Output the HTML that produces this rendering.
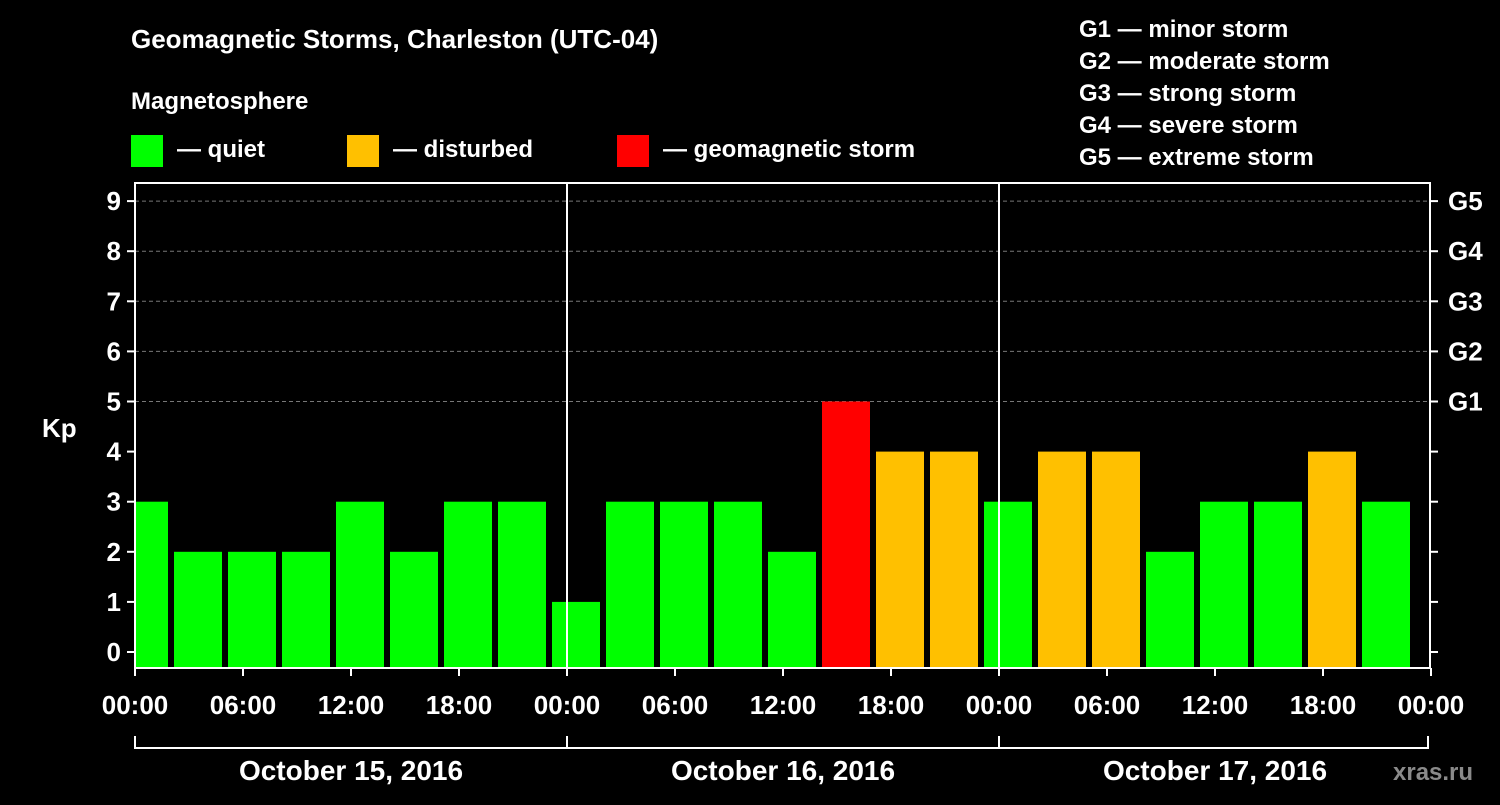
<!DOCTYPE html>
<html><head><meta charset="utf-8"><style>
body{margin:0;background:#000;}
svg text{font-family:"Liberation Sans",Arial,sans-serif;font-weight:bold;fill:#fff;}
</style></head><body>
<svg id="chart" width="1500" height="800" xmlns="http://www.w3.org/2000/svg">
<rect width="1500" height="800" fill="#000"/>
<text x="131" y="48" font-size="26">Geomagnetic Storms, Charleston (UTC-04)</text>
<text x="131" y="109" font-size="24">Magnetosphere</text>
<g>
<rect x="131" y="135" width="32" height="32" fill="#00ff00"/>
<text x="177" y="157" font-size="24">— quiet</text>
<rect x="347" y="135" width="32" height="32" fill="#ffc000"/>
<text x="393" y="157" font-size="24">— disturbed</text>
<rect x="617" y="135" width="32" height="32" fill="#ff0000"/>
<text x="663" y="157" font-size="24">— geomagnetic storm</text>
</g>
<g font-size="24">
<text x="1079" y="37">G1 — minor storm</text>
<text x="1079" y="69">G2 — moderate storm</text>
<text x="1079" y="101">G3 — strong storm</text>
<text x="1079" y="133">G4 — severe storm</text>
<text x="1079" y="165">G5 — extreme storm</text>
</g>
<text x="42" y="437" font-size="26">Kp</text>
<text x="1393" y="780" font-size="24" fill="#888" style="fill:#8a8a8a">xras.ru</text>
<g id="grid"></g>
<g id="bars"></g>
<g id="axes"></g>
</svg>
<script>
const kpValues=[3,2,2,2,3,2,3,3,1,3,3,3,2,5,4,4,3,4,4,2,3,3,4,3];
const yTicks=[0,1,2,3,4,5,6,7,8,9];
const gLabels=["G1","G2","G3","G4","G5"];
const timeLabels=["00:00","06:00","12:00","18:00","00:00","06:00","12:00","18:00","00:00","06:00","12:00","18:00","00:00"];
const dayLabels=["October 15, 2016","October 16, 2016","October 17, 2016"];
const firstBarOffsetHours=-1;

const NS="http://www.w3.org/2000/svg";
const X0=135,X1=1430,YTOP=183,YBOT=668,Y0=652,PPU=50.1,PPH=18;
const xs=h=>X0+h*PPH;
const ys=v=>Y0-v*PPU;
function mk(tag,attrs,parent){const e=document.createElementNS(NS,tag);for(const k in attrs)e.setAttribute(k,attrs[k]);parent.appendChild(e);return e;}
const grid=document.getElementById('grid'),bars=document.getElementById('bars'),axes=document.getElementById('axes');

for(let v=5;v<=9;v++){
 const l=mk('line',{x1:X0,x2:X1,y1:ys(v),y2:ys(v),stroke:'#777','stroke-dasharray':'4,3','stroke-width':1},grid);
 
 
}
kpValues.forEach((v,i)=>{
 const h0=firstBarOffsetHours+3*i;
 let xa=xs(h0)+3,xb=xs(h0+3)-3;
 xa=Math.max(xa,X0+1);xb=Math.min(xb,X1-2);
 const col=v>=5?'#ff0000':(v>=4?'#ffc000':'#00ff00');
 const r=mk('rect',{x:xa,y:ys(v),width:xb-xa,height:YBOT-ys(v),fill:col},bars);
 
 
});
const frame=mk('rect',{x:X0,y:YTOP,width:X1-X0,height:YBOT-YTOP,fill:'none',stroke:'#fff','stroke-width':2},axes);


for(let d=1;d<3;d++){
 const l=mk('line',{x1:xs(24*d),x2:xs(24*d),y1:YTOP,y2:YBOT,stroke:'#fff','stroke-width':2},axes);
 
 
}
yTicks.forEach(v=>{
 mk('line',{x1:X0-8,x2:X0,y1:ys(v),y2:ys(v),stroke:'#fff','stroke-width':2},axes);
 mk('line',{x1:X1,x2:X1+8,y1:ys(v),y2:ys(v),stroke:'#fff','stroke-width':2},axes);
 const t=mk('text',{x:X0-14,y:ys(v)+9,'text-anchor':'end','font-size':26},axes);
 t.textContent=v;
 
 
});
gLabels.forEach((g,i)=>{
 const t=mk('text',{x:X1+18,y:ys(5+i)+9,'font-size':26},axes);
 t.textContent=g;
 
 
});
timeLabels.forEach((s,i)=>{
 const x=xs(6*i);
 mk('line',{x1:x,x2:x,y1:YBOT,y2:YBOT+8,stroke:'#fff','stroke-width':2},axes);
 const t=mk('text',{x:x,y:714,'text-anchor':'middle','font-size':26},axes);
 t.textContent=s;
 
 
});
mk('line',{x1:X0,x2:X1-2,y1:748,y2:748,stroke:'#fff','stroke-width':2},axes);
for(let d=0;d<=3;d++){const x=Math.min(xs(24*d),X1-2);mk('line',{x1:x,x2:x,y1:736,y2:749,stroke:'#fff','stroke-width':2},axes);}
dayLabels.forEach((s,i)=>{
 const t=mk('text',{x:xs(24*i+12),y:780,'text-anchor':'middle','font-size':28},axes);
 t.textContent=s;
 
 
});
</script>
</body></html>
